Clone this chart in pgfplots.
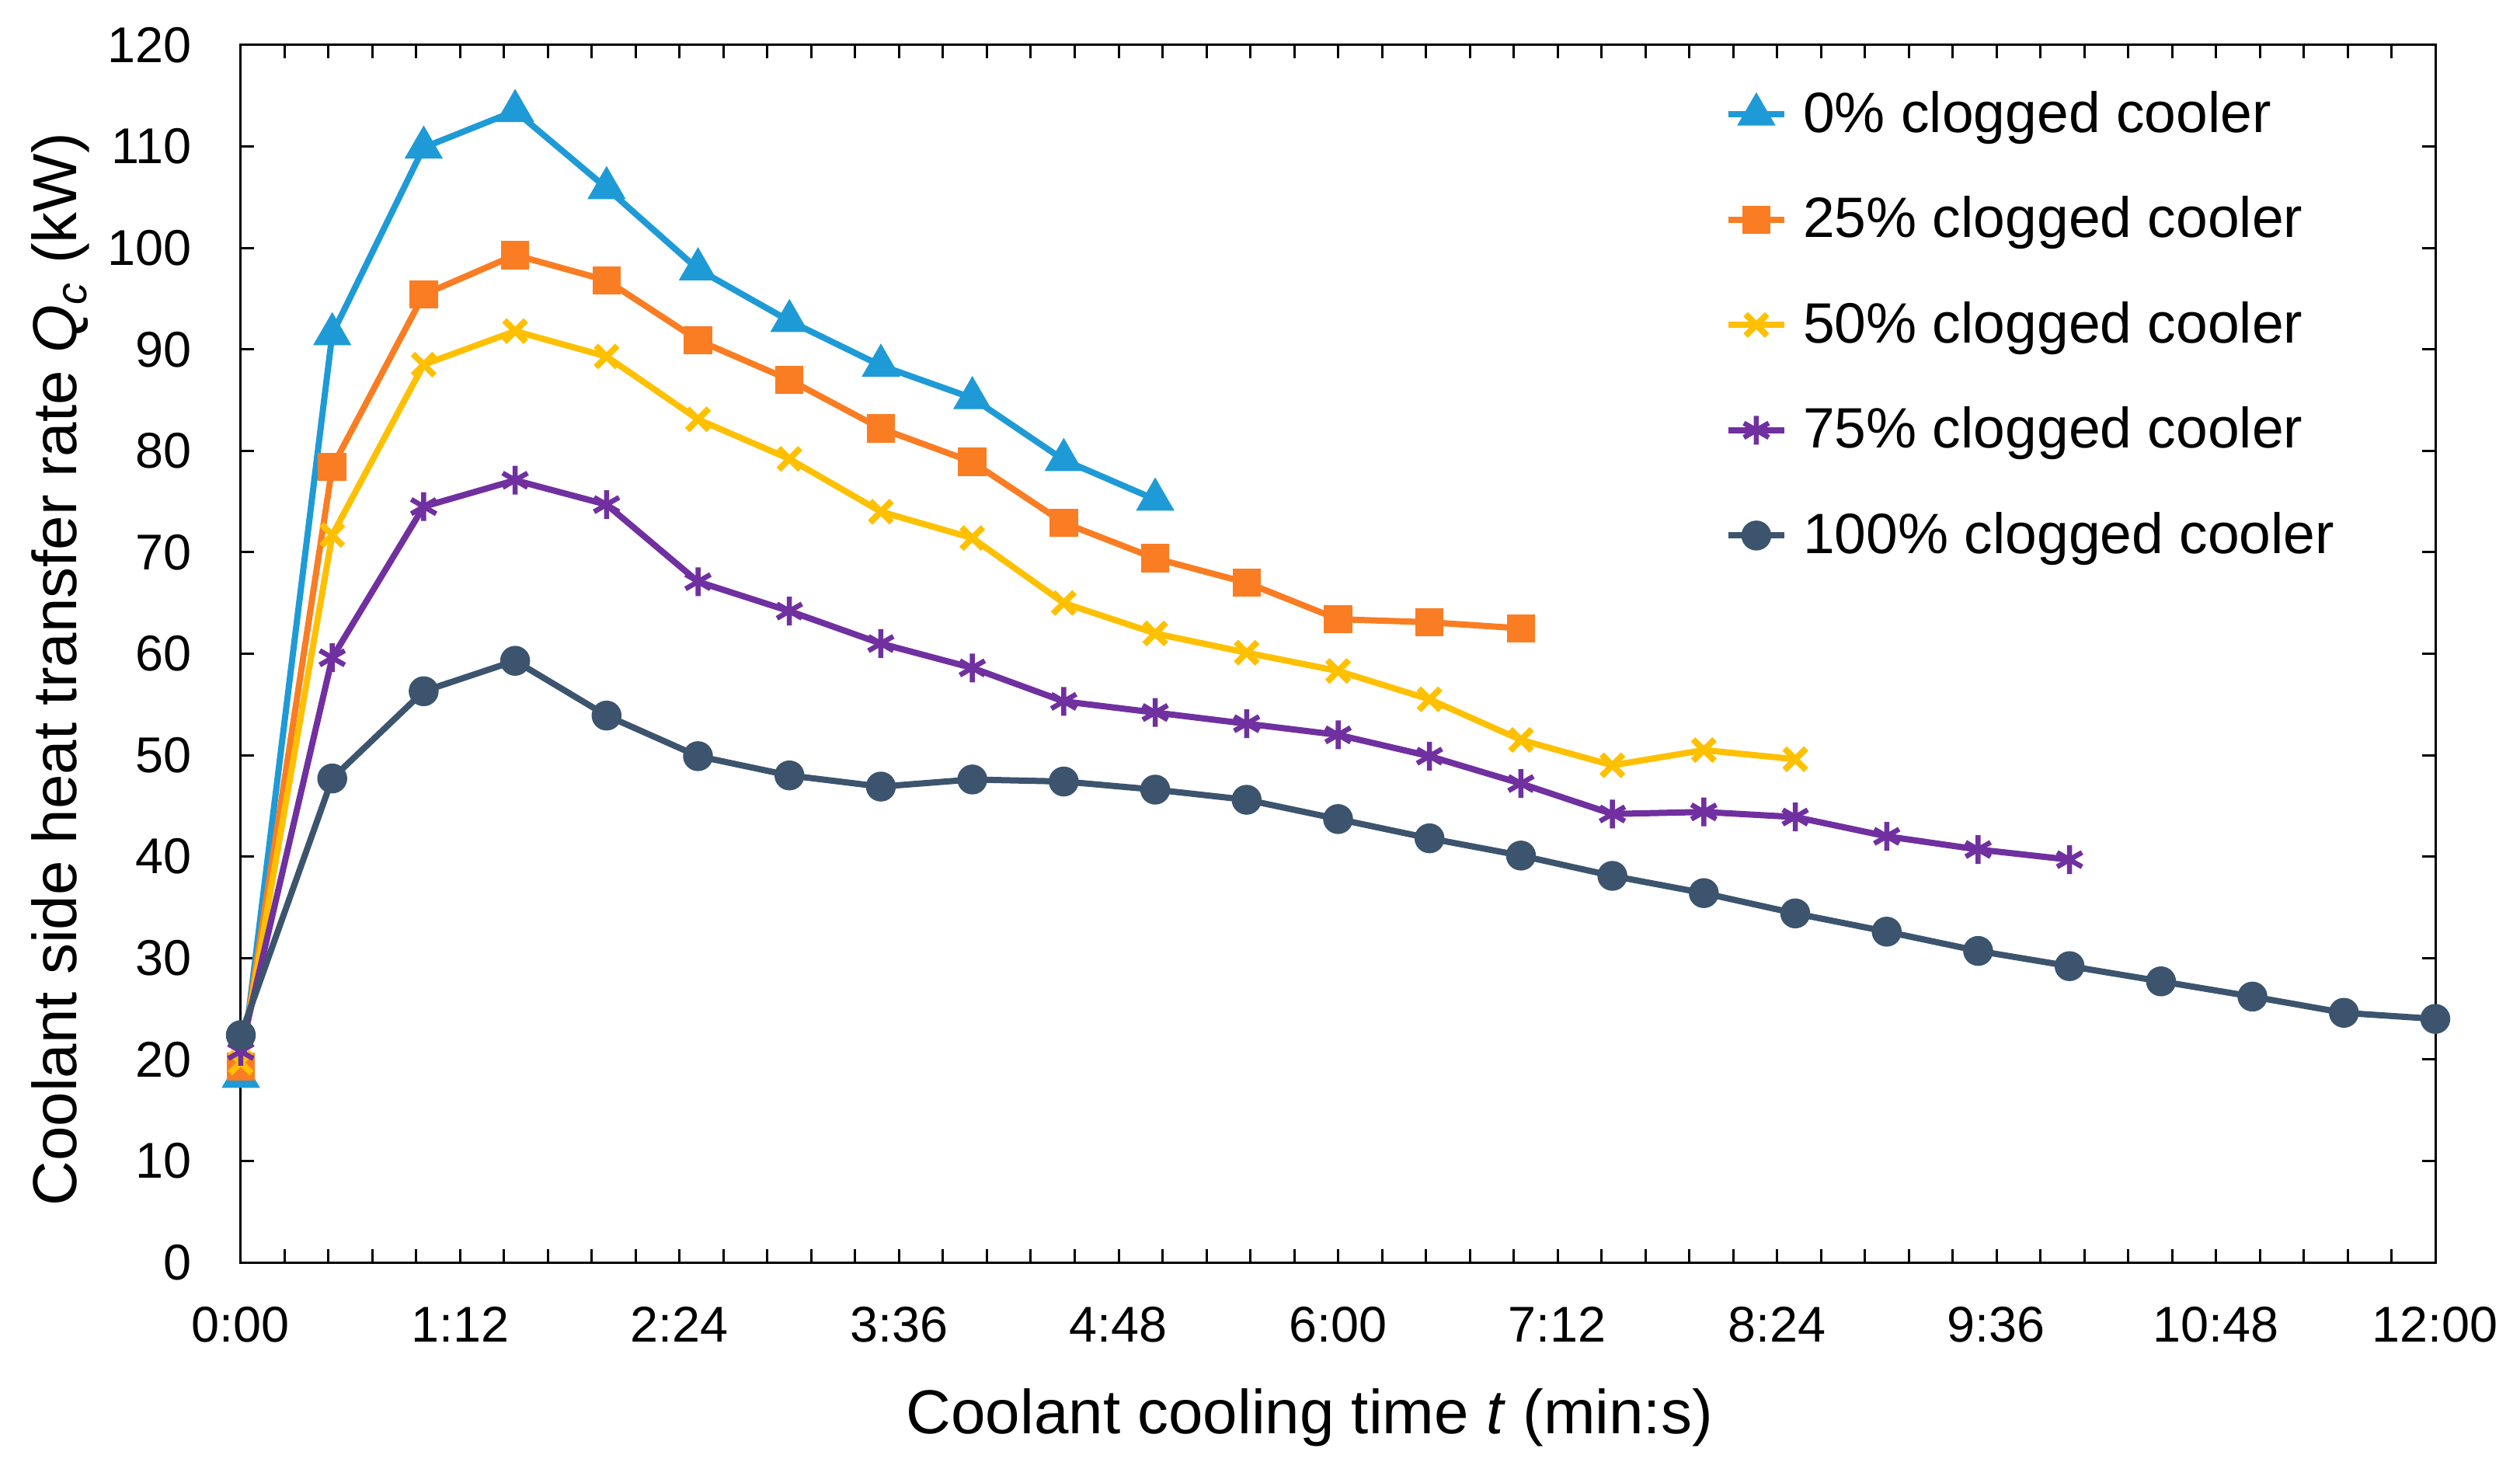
\documentclass[border=0pt]{standalone}
\usepackage{fontspec}
\setmainfont{Liberation Sans}
\usepackage{pgfplots}
\pgfplotsset{compat=1.18}
\definecolor{cblue}{RGB}{30,155,215}
\definecolor{corange}{RGB}{250,125,35}
\definecolor{cyellow}{RGB}{255,192,0}
\definecolor{cpurple}{RGB}{112,48,160}
\definecolor{cnavy}{RGB}{60,84,110}
\begin{document}
\begin{tikzpicture}
\useasboundingbox (-62bp,-53.2bp) rectangle (586.8bp,325bp);
\begin{axis}[
  at={(0,0)}, anchor=south west,
  scale only axis, width=565bp, height=313.4bp,
  xmin=0, xmax=720, ymin=0, ymax=120,
  xtick={0,72,...,720},
  xticklabels={0:00,1:12,2:24,3:36,4:48,6:00,7:12,8:24,9:36,10:48,12:00},
  minor x tick num=4,
  ytick={0,10,...,120},
  tick align=inside,
  major tick length=3.5bp, minor tick length=3.5bp,
  axis line style={black, line width=0.6bp},
  every tick/.style={black, line width=0.6bp},
  /pgf/number format/assume math mode=true,
  tick label style={font=\fontsize{13}{15}\selectfont},
  xticklabel style={anchor=base, yshift=-20.4bp},
  yticklabel style={anchor=east, inner sep=0pt, xshift=-12.4bp},
  xlabel={Coolant cooling time \textit{t} (min:s)},
  ylabel={Coolant side heat transfer rate \textit{Q}\textsubscript{\textit{c}} (kW)},
  xlabel style={font=\fontsize{16.05}{19}\selectfont, at={(axis description cs:0.487,-0.141)}, anchor=base},
  ylabel style={font=\fontsize{16.05}{19}\selectfont, at={(axis description cs:-0.075,0.487)}, anchor=base},
  legend style={draw=none, fill=none, font=\fontsize{14.7}{17}\selectfont,
    at={(axis description cs:0.676,0.97)}, anchor=north west,
    row sep=10.6bp, inner sep=0pt,
    nodes={inner sep=2.2bp}},
  legend cell align=left,
  legend image code/.code={\draw[mark repeat=2,mark phase=2] plot coordinates {(0bp,0bp)(7.25bp,0bp)(14.5bp,0bp)};},
  legend style={/tikz/every odd column/.append style={column sep=1.8bp}},
  every axis plot/.append style={line width=1.6bp},
]
\addplot[cblue, mark=triangle*, mark size=5.2bp, mark options={solid, line width=0.5bp}] coordinates {
(0,18.3)(30,91.5)(60,109.9)(90,113.5)(120,105.9)(150,97.9)(180,92.8)(210,88.4)(240,85.2)(270,79.1)(300,75.2)};
\addlegendentry{0\% clogged cooler}
\addplot[corange, mark=square*, mark size=3.4bp, mark options={solid, line width=0.5bp}] coordinates {
(0,19.3)(30,78.4)(60,95.4)(90,99.3)(120,96.8)(150,90.9)(180,87.0)(210,82.2)(240,78.9)(270,72.9)(300,69.4)(330,67.0)(360,63.4)(390,63.1)(420,62.5)};
\addlegendentry{25\% clogged cooler}
\addplot[cyellow, mark=x, mark size=3.9bp, mark options={solid, line width=1.6bp}] coordinates {
(0,19.7)(30,71.7)(60,88.5)(90,91.8)(120,89.3)(150,83.1)(180,79.2)(210,74.0)(240,71.4)(270,65.0)(300,62.0)(330,60.1)(360,58.3)(390,55.5)(420,51.5)(450,49.0)(480,50.5)(510,49.6)};
\addlegendentry{50\% clogged cooler}
\addplot[cpurple, mark=asterisk, mark size=3.7bp, mark options={solid, line width=1.3bp}] coordinates {
(0,20.8)(30,59.6)(60,74.5)(90,77.1)(120,74.7)(150,67.1)(180,64.2)(210,61.0)(240,58.6)(270,55.3)(300,54.2)(330,53.1)(360,52.0)(390,49.9)(420,47.2)(450,44.2)(480,44.4)(510,43.9)(540,42.0)(570,40.7)(600,39.7)};
\addlegendentry{75\% clogged cooler}
\addplot[cnavy, mark=*, mark size=3.6bp, mark options={solid, line width=0.5bp}] coordinates {
(0,22.4)(30,47.7)(60,56.3)(90,59.3)(120,53.9)(150,49.9)(180,48.0)(210,46.9)(240,47.6)(270,47.4)(300,46.6)(330,45.6)(360,43.7)(390,41.8)(420,40.1)(450,38.1)(480,36.4)(510,34.4)(540,32.6)(570,30.7)(600,29.2)(630,27.7)(660,26.2)(690,24.6)(720,24.0)};
\addlegendentry{100\% clogged cooler}
\end{axis}
\end{tikzpicture}
\end{document}
